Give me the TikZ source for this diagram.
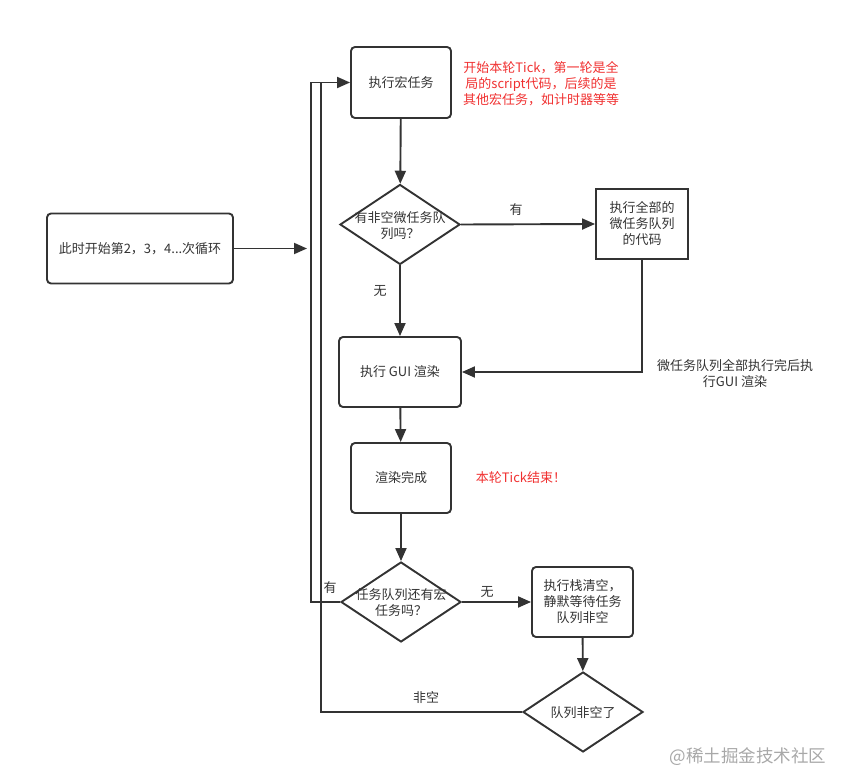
\documentclass[tikz,border=0pt]{standalone}
\usepackage{fontspec}
\setmainfont{Noto Sans CJK SC}
\usetikzlibrary{arrows.meta,shapes.geometric}
\definecolor{ink}{HTML}{333333}
\definecolor{redtxt}{HTML}{F03030}
\definecolor{wmark}{HTML}{A8A8A8}
\tikzset{
  every node/.style={font=\fontsize{13}{16}\selectfont, text=ink},
  ln/.style={draw=ink, line width=1.9pt},
  arr/.style={ln, -{Triangle[length=13pt,width=11pt]}},
  rbox/.style={draw=ink, line width=1.9pt, rounded corners=4pt, align=center, inner sep=0pt},
  sbox/.style={draw=ink, line width=1.9pt, align=center, inner sep=0pt},
  dia/.style={draw=ink, line width=1.9pt, diamond, inner sep=0pt},
  dtext/.style={align=center},
  lbl/.style={},
}
\begin{document}
\begin{tikzpicture}[x=1pt,y=-1pt]
\useasboundingbox (0,0) rectangle (847,783);
% boxes
\node[rbox, minimum width=100pt, minimum height=71pt] (b1) at (401,82.5) {执行宏任务};
\node[dia, minimum width=120pt, minimum height=80pt] (d1) at (400,224.5) {};
\node[dtext] at (400,226) {有非空微任务队\\列吗？};
\node[sbox, minimum width=92pt, minimum height=70pt] (mic) at (642,224) {执行全部的\\微任务队列\\的代码};
\node[rbox, minimum width=122pt, minimum height=70pt] (gui) at (400,372) {执行 GUI 渲染};
\node[rbox, minimum width=100pt, minimum height=70pt] (ren) at (401,478) {渲染完成};
\node[dia, minimum width=120pt, minimum height=80pt] (d2) at (401,602) {};
\node[dtext] at (401,603) {任务队列还有宏\\任务吗？};
\node[rbox, minimum width=101pt, minimum height=70pt] (wait) at (582.5,602) {执行栈清空，\\静默等待任务\\队列非空};
\node[dia, minimum width=120pt, minimum height=80pt] (d3) at (583,712) {};
\node[dtext] at (583,713) {队列非空了};
\node[rbox, minimum width=186pt, minimum height=70pt] (lb) at (140,248.5) {此时开始第2，3，4...次循环};
% coordinates
\coordinate (jn) at (321,82.5);
\coordinate (jo) at (311,82.5);
\coordinate (lbEnd) at (307,248.5);
% connectors
\draw[arr] (b1) -- (d1);
\draw[arr] (d1.east) -- (mic.west);
\draw[arr] (d1) -- (gui);
\draw[arr] (mic.south) |- (gui.east);
\draw[arr] (gui) -- (ren);
\draw[arr] (ren) -- (d2);
\draw[arr] (d2.east) -- (wait.west);
\draw[arr] (wait) -- (d3);
\draw[ln] (d2.west) -| (jo) -- (jn);
\draw[arr] (d3.west) -| (jn) -- (b1.west);
\draw[arr] (lb.east) -- (lbEnd);
% labels
\node[lbl] at (516,210) {有};
\node[lbl] at (380,291) {无};
\node[lbl] at (330,588) {有};
\node[lbl] at (487,592) {无};
\node[lbl] at (426,698) {非空};
% notes
\node[align=center, text=redtxt] (n1) at (541,84) {开始本轮Tick，第一轮是全\\局的script代码，后续的是\\其他宏任务，如计时器等等};
\node[text=redtxt] (n2) at (521,478) {本轮Tick结束！};
\node[align=center] (n3) at (735,374) {微任务队列全部执行完后执\\行GUI 渲染};
\node[text=wmark, font=\fontsize{17.5}{20}\selectfont] (wm) at (748,757) {@稀土掘金技术社区};
\end{tikzpicture}
\end{document}
